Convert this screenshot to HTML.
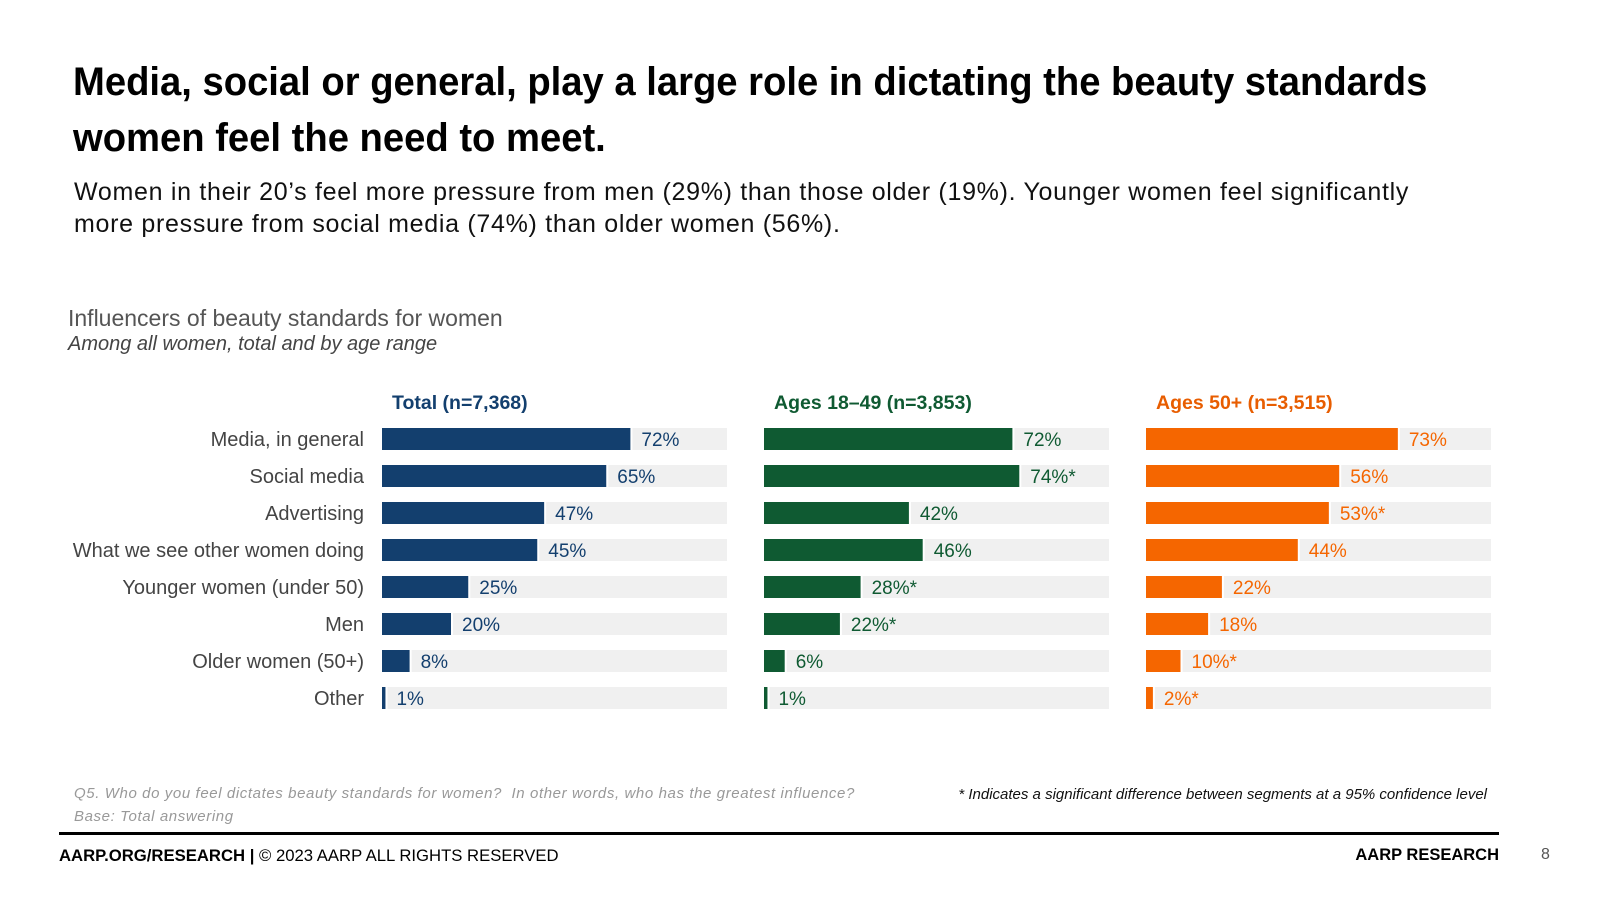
<!DOCTYPE html>
<html><head><meta charset="utf-8"><style>
body{margin:0;width:1600px;height:900px;background:#fff;font-family:"Liberation Sans",Arial,sans-serif;position:relative;overflow:hidden}
.a{position:absolute;white-space:nowrap}
</style></head><body>
<div class="a" style="left:73px;top:54px;font-size:40px;font-weight:bold;line-height:56px;color:#000;transform:scaleX(0.955);transform-origin:0 0">Media, social or general, play a large role in dictating the beauty standards<br>women feel the need to meet.</div>
<div class="a" style="left:74px;top:176px;font-size:25px;letter-spacing:0.7px;line-height:32px;color:#111">Women in their 20’s feel more pressure from men (29%) than those older (19%). Younger women feel significantly<br>more pressure from social media (74%) than older women (56%).</div>
<div class="a" style="left:68px;top:305px;font-size:23px;color:#555">Influencers of beauty standards for women</div>
<div class="a" style="left:68px;top:333px;font-size:20px;font-style:italic;color:#444">Among all women, total and by age range</div>
<svg id="chart" class="a" style="left:0;top:0" width="1600" height="760"></svg>
<div class="a" style="left:74px;top:782px;font-size:15px;letter-spacing:0.6px;font-style:italic;color:#999;line-height:23px">Q5. Who do you feel dictates beauty standards for women?&nbsp; In other words, who has the greatest influence?<br>Base: Total answering</div>
<div class="a" style="right:113px;top:786px;font-size:15px;font-style:italic;color:#111">* Indicates a significant difference between segments at a 95% confidence level</div>
<div class="a" style="left:59px;top:832px;width:1440px;height:3px;background:#000"></div>
<div class="a" style="left:59px;top:846px;font-size:16.7px;color:#000"><b>AARP.ORG/RESEARCH |</b> © 2023 AARP ALL RIGHTS RESERVED</div>
<div class="a" style="right:101px;top:846px;font-size:16.5px;font-weight:bold;color:#000">AARP RESEARCH</div>
<div class="a" style="left:1541px;top:846px;font-size:16px;color:#555">8</div>
<script>
const categories=["Media, in general","Social media","Advertising","What we see other women doing","Younger women (under 50)","Men","Older women (50+)","Other"];
const seriesNames=["Total (n=7,368)","Ages 18–49 (n=3,853)","Ages 50+ (n=3,515)"];
const totalValues=[72,65,47,45,25,20,8,1];
const youngValues=[72,74,42,46,28,22,6,1];
const oldValues=[73,56,53,44,22,18,10,2];
const youngSig=[false,true,false,false,true,true,false,false];
const oldSig=[false,false,true,false,false,false,true,true];
const NS="http://www.w3.org/2000/svg";
const svg=document.getElementById('chart');
const cols=[{x:382,v:totalValues,s:[],c:"#133f6e",tc:"#133f6e",hc:"#133f6e",key:"total"},
{x:764,v:youngValues,s:youngSig,c:"#0f5a32",tc:"#0f5a32",hc:"#0f5a32",key:"ages-18-49"},
{x:1146,v:oldValues,s:oldSig,c:"#f56600",tc:"#f56600",hc:"#e85d00",key:"ages-50-plus"}];
const trackW=345;
const xs=v=>v*trackW/100;
const yRow=i=>428+i*37;
function mk(t,a){const e=document.createElementNS(NS,t);for(const k in a)e.setAttribute(k,a[k]);svg.appendChild(e);return e;}
categories.forEach((c,i)=>{
 const t=mk('text',{x:364,y:yRow(i)+18,'text-anchor':'end','font-size':20,fill:'#444','font-family':'Liberation Sans, sans-serif'});
 t.textContent=c;
 
 
});
cols.forEach((col,ci)=>{
 const h=mk('text',{x:col.x+10,y:409,'font-size':19.5,'font-weight':'bold',fill:col.hc,'font-family':'Liberation Sans, sans-serif'});
 h.textContent=seriesNames[ci];
 
 
 col.v.forEach((v,i)=>{
  const y=yRow(i),w=Math.max(xs(v),3);
  const tr=mk('rect',{x:col.x+w+2,y:y,width:Math.max(trackW-w-2,0),height:22,fill:'#f0f0f0'});
  
  
  const b=mk('rect',{x:col.x,y:y,width:w,height:22,fill:col.c});
  
  
  const l=mk('text',{x:col.x+w+11,y:y+18,'font-size':19,fill:col.tc,'font-family':'Liberation Sans, sans-serif'});
  l.textContent=v+'%'+(col.s[i]?'*':'');
  
  
 });
});
</script>
</body></html>
